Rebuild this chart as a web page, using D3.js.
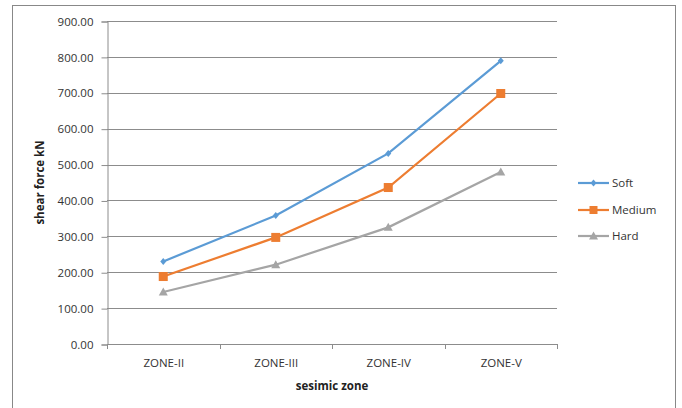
<!DOCTYPE html>
<html><head><meta charset="utf-8">
<script src="https://cdn.jsdelivr.net/npm/d3@7"></script>
<style>body{margin:0;background:#fff}svg{display:block}text{font-family:"Open Sans","Liberation Sans",sans-serif}</style>
</head><body><svg id="c" width="682" height="408"></svg>
<script>
const categories = ["ZONE-II","ZONE-III","ZONE-IV","ZONE-V"];
const soft = [230, 358, 531, 789];
const medium = [188, 297, 436, 698];
const hard = [145, 221, 325, 479];
const seriesNames = ["Soft","Medium","Hard"];
const yTicks = [0,100,200,300,400,500,600,700,800,900];
const colors = ["#5B9BD5","#ED7D31","#A5A5A5"];

const series = [soft, medium, hard].map((v,i)=>({name:seriesNames[i], values:v, color:colors[i]}));

const svg = d3.select("#c");
const L=107, R=557, T=21, B=344;
svg.append("rect").attr("x",12.5).attr("y",5.5).attr("width",663).attr("height",410)
  .attr("fill","#fff").attr("stroke","#888").attr("stroke-width",1);

const x = d3.scaleBand().domain(categories).range([L,R]);
const y = d3.scaleLinear().domain([0,900]).range([B,T]);

// gridlines
svg.append("g").selectAll("line").data(yTicks.filter(d=>d>0)).join("line")
  .attr("x1",L).attr("x2",R).attr("y1",d=>Math.round(y(d))+0.5).attr("y2",d=>Math.round(y(d))+0.5)
  .attr("stroke","#8c8c8c").attr("stroke-width",1);

// y axis
const ya = svg.append("g").attr("transform",`translate(${L+0.5},0.5)`)
  .call(d3.axisLeft(y).tickValues(yTicks).tickFormat(d3.format(".2f")).tickSize(6).tickPadding(8));
ya.select(".domain").attr("stroke","#8c8c8c");
ya.selectAll(".tick line").attr("stroke","#8c8c8c");
ya.selectAll("text").attr("font-size",11.5).attr("fill","#333").style("font-family",'"Open Sans",sans-serif');

// x axis
const xa = svg.append("g").attr("transform",`translate(0.5,${B+0.5})`)
  .call(d3.axisBottom(x).tickSize(0).tickPadding(14));
xa.select(".domain").attr("d",`M${L},0H${R}`).attr("stroke","#8c8c8c");
xa.selectAll("text").attr("font-size",11.5).attr("fill","#333").style("font-family",'"Open Sans",sans-serif');
const bounds = [L, ...categories.map(c=>x(c)+x.bandwidth())];
svg.append("g").selectAll("line").data(bounds).join("line")
  .attr("x1",d=>Math.round(d)+0.5).attr("x2",d=>Math.round(d)+0.5).attr("y1",B).attr("y2",B+5)
  .attr("stroke","#8c8c8c");

const cx = c => x(c)+x.bandwidth()/2;
const line = d3.line().x((d,i)=>cx(categories[i])).y(d=>y(d));

function marker(g, type, color, s){
  if(type===0) g.append("path").attr("d","M0,-3.5L3,0L0,3.5L-3,0Z").attr("fill",color);
  else if(type===1) g.append("rect").attr("x",-s/2).attr("y",-s/2).attr("width",s).attr("height",s).attr("fill",color);
  else g.append("path").attr("d","M0,-4.5L4.5,3.5L-4.5,3.5Z").attr("fill",color);
}

series.forEach((s,si)=>{
  svg.append("path").datum(s.values).attr("d",line).attr("fill","none")
    .attr("stroke",s.color).attr("stroke-width",2.2);
  s.values.forEach((v,i)=>{
    const g = svg.append("g").attr("transform",`translate(${cx(categories[i])},${y(v)})`);
    marker(g, si, s.color, 9);
  });
});

// legend
const ly = [183,210,236];
series.forEach((s,i)=>{
  const g = svg.append("g").attr("transform",`translate(0,${ly[i]})`);
  g.append("line").attr("x1",578).attr("x2",609).attr("stroke",s.color).attr("stroke-width",2.2);
  const m = g.append("g").attr("transform","translate(593.5,0)");
  marker(m, i, s.color, 8);
  g.append("text").attr("x",612).attr("y",4).attr("font-size",11.5).attr("fill","#333").text(s.name);
});

// axis titles
svg.append("text").attr("transform",`translate(44,${(T+B)/2}) rotate(-90)`).attr("text-anchor","middle")
  .attr("font-size",11.5).attr("font-weight","bold").attr("fill","#222").text("shear force kN");
svg.append("text").attr("x",(L+R)/2).attr("y",390).attr("text-anchor","middle")
  .attr("font-size",11.5).attr("font-weight","bold").attr("fill","#222").text("sesimic zone");
</script></body></html>
